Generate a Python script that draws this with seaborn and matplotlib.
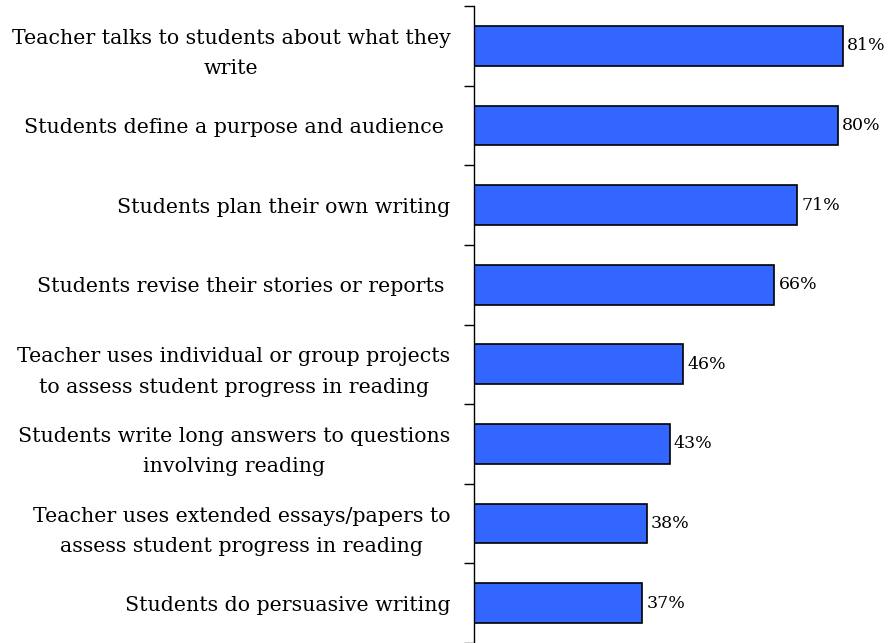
import matplotlib
matplotlib.use("Agg")
import matplotlib.pyplot as plt
import seaborn as sns
import pandas as pd

practices = [
    "Teacher talks to students about what they\nwrite",
    "Students define a purpose and audience ",
    "Students plan their own writing",
    "Students revise their stories or reports ",
    "Teacher uses individual or group projects\nto assess student progress in reading",
    "Students write long answers to questions\ninvolving reading",
    "Teacher uses extended essays/papers to\nassess student progress in reading",
    "Students do persuasive writing",
]
percent = [81, 80, 71, 66, 46, 43, 38, 37]

df = pd.DataFrame({"practice": practices, "percent": percent})

sns.set_style("white")
plt.rcParams["font.family"] = ["DejaVu Serif"]
plt.rcParams["text.color"] = "black"
plt.rcParams["ytick.color"] = "black"
plt.rcParams["ytick.labelcolor"] = "black"

fig = plt.figure(figsize=(8.9, 6.43), dpi=100)
ax = fig.add_axes([474 / 890, 0.0, 1 - 474 / 890, 1 - 6 / 643])

sns.barplot(data=df, y="practice", x="percent", orient="h", color="#3366FF",
            saturation=1, edgecolor="black", linewidth=1.2, width=0.5, ax=ax)

ax.set_xlim(0, 91.4)
ax.set_ylim(len(practices) - 0.5, -0.5)
ax.set_xlabel("")
ax.set_ylabel("")
ax.set_xticks([])

for s in ["top", "right", "bottom"]:
    ax.spines[s].set_visible(False)
ax.spines["left"].set_color("black")
ax.spines["left"].set_linewidth(1.0)

# category labels centred on bars, ticks on category boundaries
ax.set_yticks(range(len(practices)))
ax.set_yticklabels(practices, fontsize=14.8, multialignment="center",
                   linespacing=1.75, color="black")
ax.tick_params(axis="y", which="major", left=False, length=0, pad=17)
ax.set_yticks([i - 0.5 for i in range(len(practices) + 1)], minor=True)
ax.tick_params(axis="y", which="minor", left=True, length=7, width=1.0,
               color="black", direction="out")

for i, v in enumerate(percent):
    ax.text(v + 0.9, i, f"{v}%", va="center", ha="left", fontsize=12.5, color="black")

fig.savefig("out.png", dpi=100)
